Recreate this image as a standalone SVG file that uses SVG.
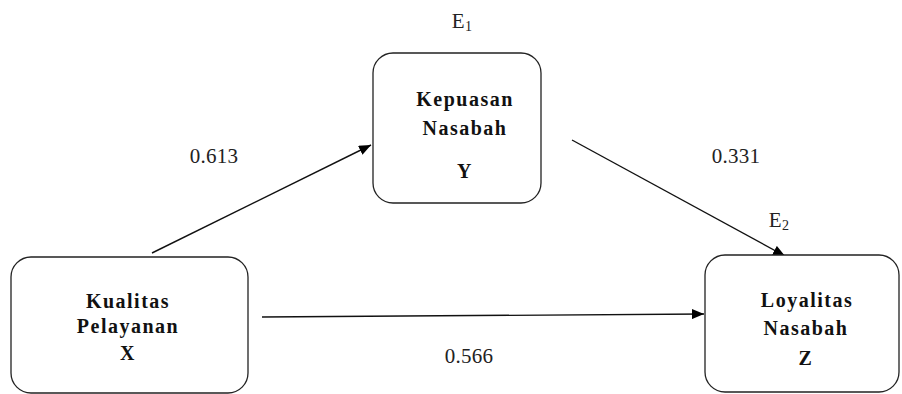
<svg xmlns="http://www.w3.org/2000/svg" width="902" height="394" viewBox="0 0 902 394">
<defs>
<marker id="ah" viewBox="0 0 12 10" refX="12" refY="5" markerWidth="12" markerHeight="10" markerUnits="userSpaceOnUse" orient="auto">
<path d="M0,0 L12,5 L0,10 z" fill="#000"/>
</marker>
<style>
.box{fill:#fff;stroke:#222;stroke-width:1.3}
.t{font-family:"Liberation Serif",serif;font-size:20px;font-weight:bold;fill:#111;text-anchor:middle;letter-spacing:1.5px}
.n{font-family:"Liberation Serif",serif;font-size:21px;fill:#222;text-anchor:middle;letter-spacing:0.3px}
.c{stroke:#111;stroke-width:1.4;fill:none;marker-end:url(#ah)}
</style>
</defs>
<rect width="902" height="394" fill="#fff"/>
<g id="connectors">
<line class="c" x1="152" y1="253" x2="371" y2="145"/>
<line class="c" x1="572" y1="140" x2="785" y2="256"/>
<line class="c" x1="262" y1="317" x2="704" y2="314"/>
</g>
<g id="nodeY">
<rect class="box" x="373" y="53" width="168" height="150" rx="20"/>
<text class="t" x="465" y="106">Kepuasan</text>
<text class="t" x="465" y="135">Nasabah</text>
<text class="t" x="465" y="178">Y</text>
</g>
<g id="nodeX">
<rect class="box" x="11" y="257" width="237" height="136" rx="20"/>
<text class="t" x="128" y="308">Kualitas</text>
<text class="t" x="128" y="333">Pelayanan</text>
<text class="t" x="128" y="360">X</text>
</g>
<g id="nodeZ">
<rect class="box" x="705" y="255" width="194" height="137" rx="20"/>
<text class="t" x="807" y="307">Loyalitas</text>
<text class="t" x="806" y="335">Nasabah</text>
<text class="t" x="806" y="365">Z</text>
</g>
<g id="labels">
<text class="n" x="462" y="28">E<tspan font-size="14" dy="3">1</tspan></text>
<text class="n" x="214" y="163">0.613</text>
<text class="n" x="736" y="163">0.331</text>
<text class="n" x="779" y="227">E<tspan font-size="14" dy="3">2</tspan></text>
<text class="n" x="469" y="363">0.566</text>
</g>
</svg>
